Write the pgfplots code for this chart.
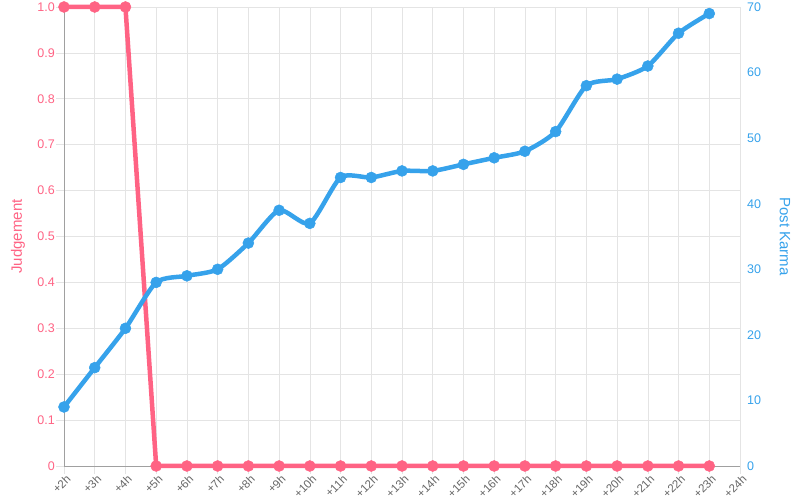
\documentclass[border=0pt]{standalone}
\usepackage{pgfplots}
\pgfplotsset{compat=1.18}
\usepackage{fontspec}
\setmainfont{Liberation Sans}
\definecolor{cred}{HTML}{FF6384}
\definecolor{cblue}{HTML}{36A2EB}
\definecolor{gridc}{HTML}{E4E4E4}
\definecolor{axc}{HTML}{A0A0A0}
\begin{document}
\begin{tikzpicture}[x=1pt,y=1pt]
\path[use as bounding box] (0,0) rectangle (800,500);
\begin{axis}[at={(64pt,34pt)}, anchor=south west, scale only axis,
  width=676pt, height=459pt,
  xmin=0, xmax=22, ymin=0, ymax=1,
  /pgf/number format/assume math mode=true,
  axis x line*=bottom, axis y line*=left,
  axis line style={axc, line width=0.8pt, -},
  xtick={0,...,22},
  xticklabels={+2h,+3h,+4h,+5h,+6h,+7h,+8h,+9h,+10h,+11h,+12h,+13h,+14h,+15h,+16h,+17h,+18h,+19h,+20h,+21h,+22h,+23h,+24h},
  x tick label style={rotate=45, anchor=north east, font=\fontsize{11.5}{12}\selectfont, text=black!60, inner sep=1pt, xshift=2pt},
  ytick={0,0.1,...,1.0},
  yticklabels={0,0.1,0.2,0.3,0.4,0.5,0.6,0.7,0.8,0.9,1.0},
  y tick label style={font=\fontsize{12.5}{14}\selectfont, text=cred, inner sep=1pt},
  grid=major, major grid style={gridc, line width=0.6pt},
  tick style={gridc, line width=0.6pt}, tick align=outside, major tick length=8pt,
  ylabel={Judgement}, ylabel style={font=\fontsize{15}{18}\selectfont, text=cred, at={(axis description cs:-0.068,0.5)}, anchor=center},
  clip=false,
]
\addplot[cred, line width=4.5pt, mark=*, mark size=5.5pt, mark options={fill=cred, draw=cred, line width=0.5pt}]
coordinates {(0,1)(1,1)(2,1)(3,0)(4,0)(5,0)(6,0)(7,0)(8,0)(9,0)(10,0)(11,0)(12,0)(13,0)(14,0)(15,0)(16,0)(17,0)(18,0)(19,0)(20,0)(21,0)};
\end{axis}
\begin{axis}[at={(64pt,34pt)}, anchor=south west, scale only axis,
  width=676pt, height=459pt,
  xmin=0, xmax=22, ymin=0, ymax=70,
  /pgf/number format/assume math mode=true,
  axis x line=none, axis y line*=right,
  axis line style={draw=none},
  ytick={0,10,...,70},
  y tick label style={font=\fontsize{12.5}{14}\selectfont, text=cblue, inner sep=1pt, xshift=6pt},
  major tick length=0pt,
  ylabel={Post Karma}, ylabel style={font=\fontsize{15}{18}\selectfont, text=cblue, rotate=180, at={(axis description cs:1.0666,0.5)}, anchor=center},
  clip=false,
]
\addplot[cblue, line width=4.5pt, smooth, tension=0.4, mark=*, mark size=5.5pt, mark options={fill=cblue, draw=cblue, line width=0.5pt}]
coordinates {(0,9)(1,15)(2,21)(3,28)(4,29)(5,30)(6,34)(7,39)(8,37)(9,44)(10,44)(11,45)(12,45)(13,46)(14,47)(15,48)(16,51)(17,58)(18,59)(19,61)(20,66)(21,69)};
\end{axis}
\end{tikzpicture}
\end{document}
